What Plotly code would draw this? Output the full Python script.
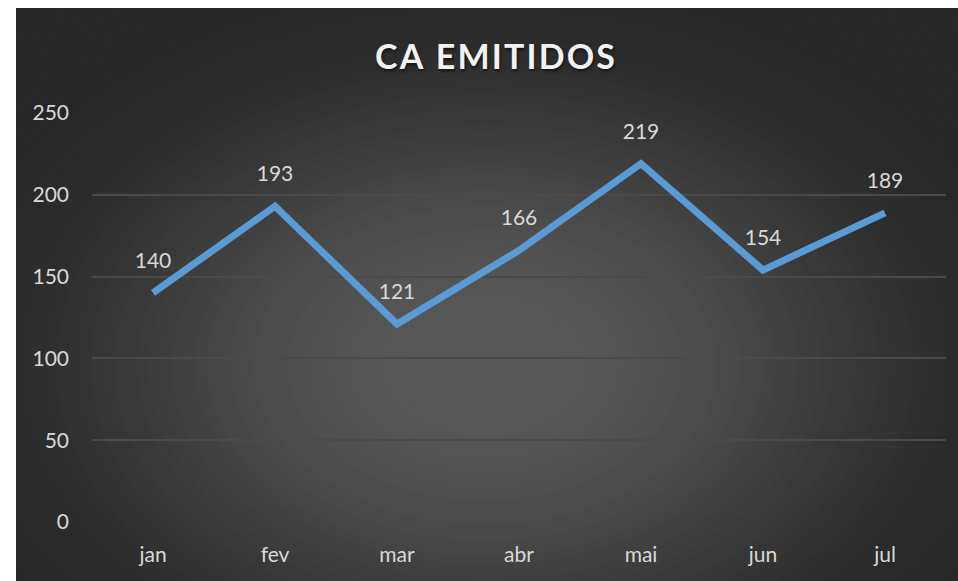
import plotly.graph_objects as go

months = ["jan", "fev", "mar", "abr", "mai", "jun", "jul"]
emitidos = [140, 193, 121, 166, 219, 154, 189]
y_ticks = [0, 50, 100, 150, 200, 250]

W, H = 958, 581
ML, MR, MT, MB = 92, 12, 113, 59
PW, PH = W - ML - MR, H - MT - MB

def px_to_paper_x(px):
    return (px - ML) / PW

def px_to_paper_y(py):
    return (H - MB - py) / PH

shapes = []
c_out, c_in = 0x27, 0x57
# dark chart background
shapes.append(dict(type="rect", xref="paper", yref="paper",
                   x0=px_to_paper_x(16), x1=px_to_paper_x(W + 4),
                   y0=px_to_paper_y(H + 4), y1=px_to_paper_y(8),
                   fillcolor="#%02x%02x%02x" % (c_out, c_out, c_out),
                   line=dict(width=0), layer="below"))
# radial gradient approximated by concentric ellipses
cx, cy = 485, 365
rx, ry = 580, 400
n = 60
t_max = 1.2
for i in range(n):
    t = t_max * (1 - i / n)
    u = min(max((t - 0.1) / 0.9, 0.0), 1.0)
    s = u * u * (3 - 2 * u)
    c = int(round(c_in - (c_in - c_out) * s))
    col = "#%02x%02x%02x" % (c, c, c)
    shapes.append(dict(type="circle", xref="paper", yref="paper",
                       x0=px_to_paper_x(cx - rx * t), x1=px_to_paper_x(cx + rx * t),
                       y0=px_to_paper_y(cy + ry * t), y1=px_to_paper_y(cy - ry * t),
                       fillcolor=col, line=dict(width=0), layer="below"))
# white borders to clip gradient
shapes.append(dict(type="rect", xref="paper", yref="paper",
                   x0=px_to_paper_x(-30), x1=px_to_paper_x(16),
                   y0=px_to_paper_y(H + 30), y1=px_to_paper_y(-30),
                   fillcolor="white", line=dict(width=0), layer="below"))
shapes.append(dict(type="rect", xref="paper", yref="paper",
                   x0=px_to_paper_x(-30), x1=px_to_paper_x(W + 30),
                   y0=px_to_paper_y(8), y1=px_to_paper_y(-30),
                   fillcolor="white", line=dict(width=0), layer="below"))

fig = go.Figure()
fig.add_trace(go.Scatter(
    x=months, y=emitidos, mode="lines+markers+text",
    line=dict(color="#5b9bd5", width=7),
    marker=dict(size=30, color="rgba(0,0,0,0)"),
    text=[str(v) for v in emitidos], textposition="top center",
    textfont=dict(family="Lato", size=21, color="#d9d9d9"),
    cliponaxis=False, hoverinfo="skip", showlegend=False,
))

title_text = "\u200a".join("CA EMITIDOS")

fig.update_layout(
    width=W, height=H,
    margin=dict(l=ML, r=MR, t=MT, b=MB),
    paper_bgcolor="white", plot_bgcolor="rgba(0,0,0,0)",
    shapes=shapes,
    title=dict(text="<b>" + title_text + "</b>", x=495 / W, xref="container", xanchor="center",
               y=1 - 57 / H, yref="container", yanchor="middle",
               font=dict(family="Lato", size=34, color="#f2f2f2",
                         shadow="1px 2px 3px rgba(0,0,0,0.6)")),
    xaxis=dict(type="category", range=[-0.5, 6.5], showgrid=False, zeroline=False,
               showline=False, ticks="", ticklabelstandoff=18,
               tickfont=dict(family="Lato", size=21, color="#d9d9d9")),
    yaxis=dict(range=[0, 250], tickvals=y_ticks, showgrid=True, gridcolor="#4a4a4a",
               gridwidth=2, zeroline=False, showline=False, ticks="", ticklabelstandoff=22,
               tickfont=dict(family="Lato", size=21, color="#d9d9d9")),
)

fig.write_html("out.html", config={"displayModeBar": False},
               post_script="document.body.style.margin='0';document.body.style.overflow='hidden';")
